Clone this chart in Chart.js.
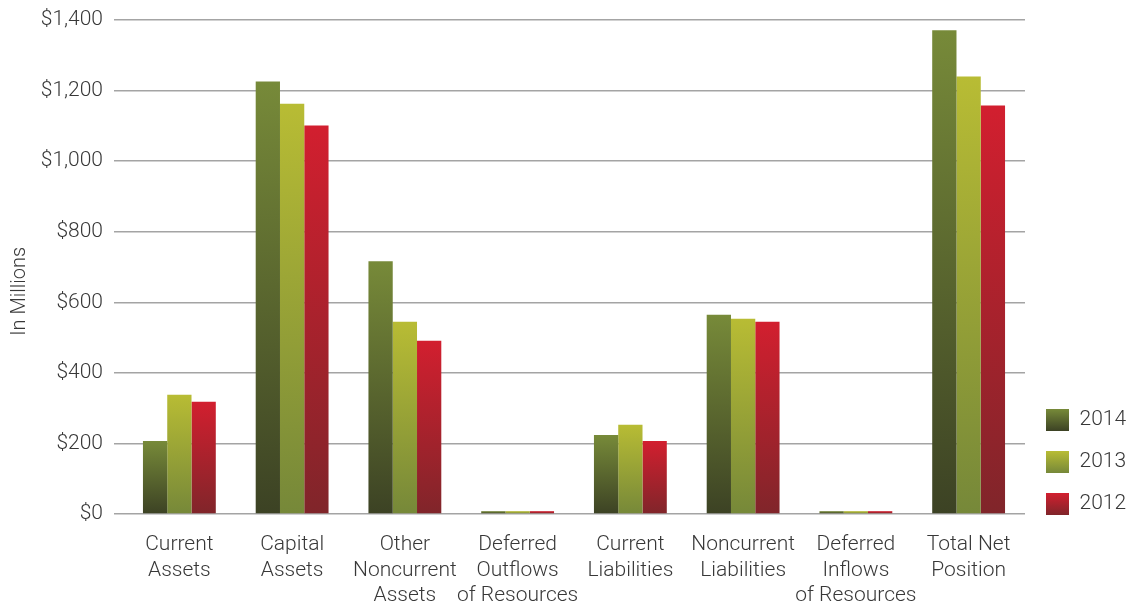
<!DOCTYPE html>
<html>
<head>
<meta charset="utf-8">
<script src="https://cdn.jsdelivr.net/npm/chart.js@4/dist/chart.umd.min.js"></script>
<style>
  html, body { margin: 0; padding: 0; background: #ffffff; }
  #wrap { width: 1129px; height: 602px; position: relative; }
</style>
</head>
<body>
<div id="wrap"><canvas id="c" width="1129" height="602"></canvas></div>
<script>
// ---- data ----
const categories = [
  ["Current", "Assets"],
  ["Capital", "Assets"],
  ["Other", "Noncurrent", "Assets"],
  ["Deferred", "Outflows", "of Resources"],
  ["Current", "Liabilities"],
  ["Noncurrent", "Liabilities"],
  ["Deferred", "Inflows", "of Resources"],
  ["Total Net", "Position"]
];
const seriesNames = ["2014", "2013", "2012"];
const values2014 = [207, 1226, 716, 8, 224, 565, 8, 1371];
const values2013 = [338, 1163, 545, 8, 253, 553, 8, 1240];
const values2012 = [318, 1101, 491, 8, 207, 545, 8, 1158];
const yMin = 0, yMax = 1400, yStep = 200;

// ---- styles ----
const topColors = ["#778a39", "#b8bc34", "#d21f2f"];
const bottomColors = ["#3c4224", "#768839", "#80252a"];
const FONT = "Roboto, 'Helvetica Neue', Arial, sans-serif";
const TEXT = "#383838";

function barFill(i) {
  return function (ctx) {
    const chart = ctx.chart;
    if (!chart.chartArea || ctx.type !== 'data') return topColors[i];
    const y = chart.scales.y;
    const yTop = y.getPixelForValue(ctx.raw);
    const yBase = y.getPixelForValue(0);
    if (!isFinite(yTop) || !isFinite(yBase) || Math.abs(yBase - yTop) < 0.5) return topColors[i];
    const g = chart.ctx.createLinearGradient(0, yBase, 0, yTop);
    g.addColorStop(0, bottomColors[i]);
    g.addColorStop(1, topColors[i]);
    return g;
  };
}

const allValues = [values2014, values2013, values2012];
const datasets = seriesNames.map((name, i) => ({
  label: name,
  data: allValues[i],
  backgroundColor: barFill(i),
  borderWidth: 0,
  categoryPercentage: 0.646,
  barPercentage: 1.0
}));

const LEG_LEFT = 1026, LEG_BOTTOM = 535, LEG_WIDTH = 1129 - 1025;
const LEG_PAD = 20, BOX_W = 23, BOX_H = 22;

const legendPlacer = {
  id: 'legendPlacer',
  beforeUpdate(chart) {
    const lg = chart.legend;
    if (lg && !lg.__patched) {
      const orig = lg.fit.bind(lg);
      lg.fit = function () { orig(); this.width = LEG_WIDTH; };
      lg.__patched = true;
    }
  },
  afterLayout(chart) {
    const lg = chart.legend;
    if (!lg) return;
    const w = lg.right - lg.left;
    lg.left = LEG_LEFT;
    lg.right = LEG_LEFT + w;
    lg.bottom = LEG_BOTTOM;
  }
};

const chart = new Chart(document.getElementById('c'), {
  type: 'bar',
  data: { labels: categories, datasets: datasets },
  plugins: [legendPlacer],
  options: {
    responsive: false,
    animation: false,
    layout: { padding: { left: 0, right: 0, top: 20, bottom: 0 } },
    plugins: {
      tooltip: { enabled: false },
      legend: {
        position: 'right',
        align: 'end',
        labels: {
          boxWidth: BOX_W,
          boxHeight: BOX_H,
          padding: LEG_PAD,
          color: TEXT,
          font: { family: FONT, size: 21, weight: '300' },
          generateLabels(chart) {
            const lg = chart.legend;
            const colH = seriesNames.length * (BOX_H + LEG_PAD);
            return chart.data.datasets.map((ds, i) => {
              let fill = topColors[i];
              if (lg && isFinite(lg.bottom)) {
                const top = LEG_BOTTOM - colH + i * (BOX_H + LEG_PAD);
                const g = chart.ctx.createLinearGradient(0, top + BOX_H, 0, top);
                g.addColorStop(0, bottomColors[i]);
                g.addColorStop(1, topColors[i]);
                fill = g;
              }
              return {
                text: ds.label,
                fillStyle: fill,
                strokeStyle: 'rgba(0,0,0,0)',
                lineWidth: 0,
                fontColor: TEXT,
                hidden: false,
                datasetIndex: i
              };
            });
          }
        }
      }
    },
    scales: {
      x: {
        grid: { display: false, drawTicks: false },
        border: { display: false },
        ticks: {
          color: TEXT,
          padding: 18,
          maxRotation: 0,
          autoSkip: false,
          font: { family: FONT, size: 21, weight: '300', lineHeight: 1.22 }
        },
        afterFit(scale) { scale.height = 88; scale.paddingLeft = 0; scale.paddingRight = 0; }
      },
      y: {
        min: yMin,
        max: yMax,
        grid: { color: '#a4a4a4', lineWidth: 1.5, drawTicks: true, tickLength: 9, tickColor: '#a4a4a4' },
        border: { display: false },
        ticks: {
          stepSize: yStep,
          color: TEXT,
          padding: 11,
          font: { family: FONT, size: 21, weight: '300' },
          callback: (v) => '$' + Number(v).toLocaleString('en-US')
        },
        title: {
          display: true,
          text: 'In Millions          ',
          color: TEXT,
          padding: { top: 8, bottom: 0 },
          font: { family: FONT, size: 20, weight: '300' }
        },
        afterFit(scale) { scale.width = 123; scale.paddingTop = 0; scale.paddingBottom = 0; }
      }
    }
  }
});
chart.update();
</script>
</body>
</html>
